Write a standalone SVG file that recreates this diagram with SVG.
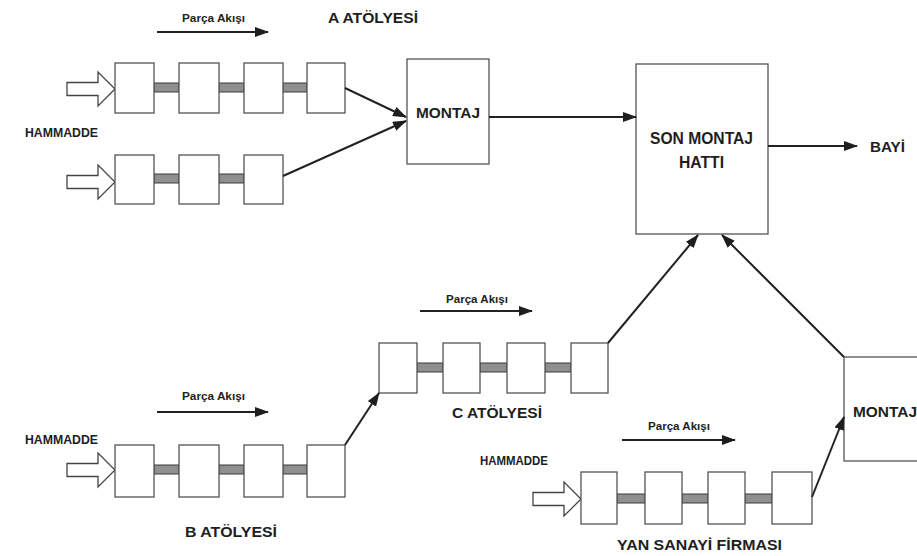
<svg xmlns="http://www.w3.org/2000/svg" width="917" height="556" viewBox="0 0 917 556">
<style>
.box{fill:#fff;stroke:#555;stroke-width:1.3}
.conv{fill:#8f8f8f;stroke:#3a3a3a;stroke-width:1}
.hol{fill:#fff;stroke:#444;stroke-width:1.3;stroke-linejoin:miter}
.ln{fill:none;stroke:#222;stroke-width:2;marker-end:url(#ah)}
.t{font-family:"Liberation Sans",Arial,sans-serif;fill:#1e1e1e;font-weight:bold}
</style>
<defs>
<marker id="ah" markerUnits="userSpaceOnUse" viewBox="0 0 14 10" markerWidth="14" markerHeight="10" refX="13" refY="5" orient="auto">
<path d="M0,0 L14,5 L0,10 z" fill="#1e1e1e"/>
</marker>
<path id="hol" class="hol" d="M-48,-6.5 L-17,-6.5 L-17,-17 L0,0 L-17,17 L-17,6.5 L-48,6.5 z"/>
</defs>
<rect width="917" height="556" fill="#fff"/>

<g id="a-atolyesi">
<text class="t" x="328" y="23" font-size="14" textLength="90" lengthAdjust="spacingAndGlyphs">A ATÖLYESİ</text>
<text class="t" x="182" y="22" font-size="10" font-weight="normal" textLength="63" lengthAdjust="spacingAndGlyphs">Parça Akışı</text>
<text class="t" x="25" y="137" font-size="12" textLength="73" lengthAdjust="spacingAndGlyphs">HAMMADDE</text>
<use href="#hol" x="115" y="89"/>
<use href="#hol" x="115" y="182"/>
<rect class="conv" x="154" y="83" width="25" height="9"/>
<rect class="conv" x="219" y="83" width="25" height="9"/>
<rect class="conv" x="283" y="83" width="24" height="9"/>
<rect class="box" x="115" y="63" width="39" height="50"/>
<rect class="box" x="179" y="63" width="40" height="50"/>
<rect class="box" x="244" y="63" width="39" height="50"/>
<rect class="box" x="307" y="63" width="38" height="50"/>
<rect class="conv" x="154" y="174" width="25" height="9"/>
<rect class="conv" x="219" y="174" width="25" height="9"/>
<rect class="box" x="115" y="155" width="39" height="49"/>
<rect class="box" x="179" y="155" width="40" height="49"/>
<rect class="box" x="244" y="155" width="39" height="49"/>
</g>

<g id="montaj-a">
<rect class="box" x="407" y="59" width="82" height="105"/>
<text class="t" x="416" y="118" font-size="15" textLength="64" lengthAdjust="spacingAndGlyphs">MONTAJ</text>
</g>

<g id="son-montaj">
<rect class="box" x="636" y="64" width="132" height="170"/>
<text class="t" x="650" y="144" font-size="16" textLength="103" lengthAdjust="spacingAndGlyphs">SON MONTAJ</text>
<text class="t" x="679" y="168" font-size="16" textLength="45" lengthAdjust="spacingAndGlyphs">HATTI</text>
</g>

<g id="bayi">
<text class="t" x="870" y="152" font-size="15" textLength="35" lengthAdjust="spacingAndGlyphs">BAYİ</text>
</g>

<g id="b-atolyesi">
<text class="t" x="182" y="400" font-size="10" font-weight="normal" textLength="63" lengthAdjust="spacingAndGlyphs">Parça Akışı</text>
<text class="t" x="25" y="444" font-size="12" textLength="73" lengthAdjust="spacingAndGlyphs">HAMMADDE</text>
<text class="t" x="185" y="537" font-size="15" textLength="92" lengthAdjust="spacingAndGlyphs">B ATÖLYESİ</text>
<use href="#hol" x="115" y="470"/>
<rect class="conv" x="154" y="465" width="25" height="9"/>
<rect class="conv" x="219" y="465" width="25" height="9"/>
<rect class="conv" x="283" y="465" width="24" height="9"/>
<rect class="box" x="115" y="445" width="39" height="52"/>
<rect class="box" x="179" y="445" width="40" height="52"/>
<rect class="box" x="244" y="445" width="39" height="52"/>
<rect class="box" x="307" y="445" width="38" height="52"/>
</g>

<g id="c-atolyesi">
<text class="t" x="446" y="303" font-size="10" font-weight="normal" textLength="62" lengthAdjust="spacingAndGlyphs">Parça Akışı</text>
<text class="t" x="452" y="418" font-size="15" textLength="90" lengthAdjust="spacingAndGlyphs">C ATÖLYESİ</text>
<rect class="conv" x="417" y="363" width="26" height="9"/>
<rect class="conv" x="480" y="363" width="27" height="9"/>
<rect class="conv" x="545" y="363" width="26" height="9"/>
<rect class="box" x="379" y="343" width="38" height="50"/>
<rect class="box" x="443" y="343" width="37" height="50"/>
<rect class="box" x="507" y="343" width="38" height="50"/>
<rect class="box" x="571" y="343" width="37" height="50"/>
</g>

<g id="yan-sanayi">
<text class="t" x="648" y="430" font-size="10" font-weight="normal" textLength="62" lengthAdjust="spacingAndGlyphs">Parça Akışı</text>
<text class="t" x="480" y="465" font-size="12" textLength="68" lengthAdjust="spacingAndGlyphs">HAMMADDE</text>
<text class="t" x="617" y="550" font-size="15" textLength="165" lengthAdjust="spacingAndGlyphs">YAN SANAYİ FİRMASI</text>
<use href="#hol" x="581" y="499"/>
<rect class="conv" x="617" y="494" width="28" height="9"/>
<rect class="conv" x="682" y="494" width="26" height="9"/>
<rect class="conv" x="745" y="494" width="27" height="9"/>
<rect class="box" x="581" y="472" width="36" height="52"/>
<rect class="box" x="645" y="472" width="37" height="52"/>
<rect class="box" x="708" y="472" width="37" height="52"/>
<rect class="box" x="772" y="472" width="40" height="52"/>
</g>

<g id="montaj-yan">
<rect class="box" x="844" y="357" width="80" height="104"/>
<text class="t" x="853" y="417" font-size="15" textLength="64" lengthAdjust="spacingAndGlyphs">MONTAJ</text>
</g>

<g id="connectors">
<line class="ln" x1="157" y1="32" x2="268" y2="32"/>
<line class="ln" x1="157" y1="412" x2="268" y2="412"/>
<line class="ln" x1="420" y1="311" x2="532" y2="311"/>
<line class="ln" x1="622" y1="440" x2="735" y2="440"/>
<line class="ln" x1="345" y1="88" x2="406" y2="117"/>
<line class="ln" x1="283" y1="176" x2="406" y2="121"/>
<line class="ln" x1="489" y1="117" x2="636" y2="117"/>
<line class="ln" x1="768" y1="146" x2="857" y2="146"/>
<line class="ln" x1="608" y1="343" x2="698" y2="235"/>
<line class="ln" x1="844" y1="357" x2="722" y2="235"/>
<line class="ln" x1="345" y1="445" x2="379" y2="393"/>
<line class="ln" x1="812" y1="497" x2="844" y2="417"/>
</g>
</svg>
